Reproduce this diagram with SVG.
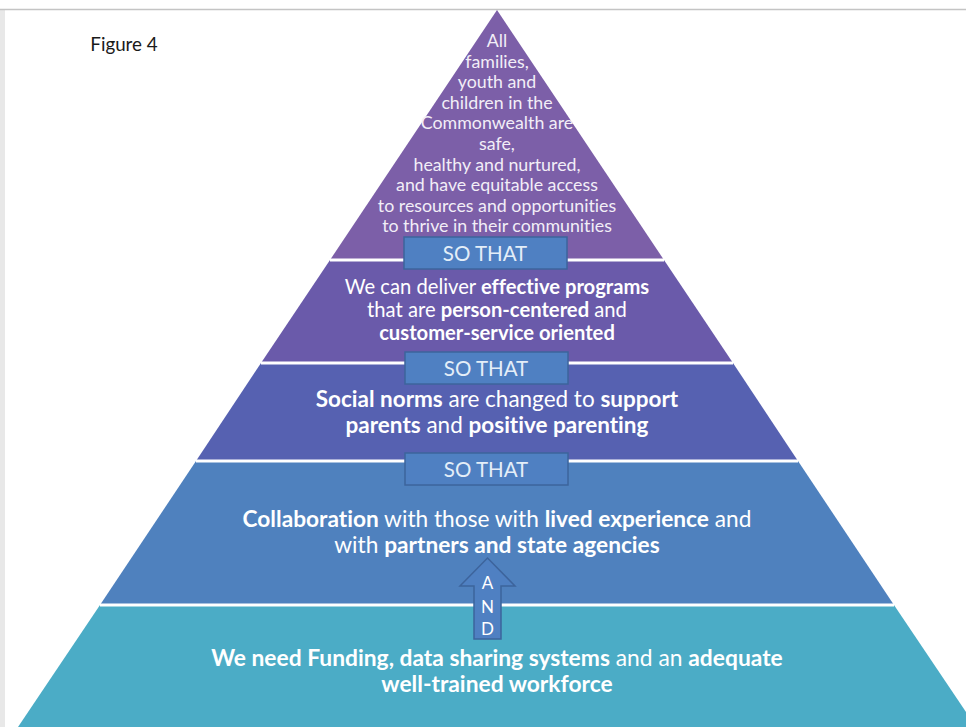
<svg xmlns="http://www.w3.org/2000/svg" width="966" height="727" viewBox="0 0 966 727">
<style>
text{font-family:Lato,"Liberation Sans",sans-serif;fill:#ffffff;text-anchor:middle;font-variant-ligatures:none;font-feature-settings:"liga" 0}
.b{font-weight:bold}
.top{font-size:17.8px;fill:#f2eef7}
.l2{font-size:20.2px}
.l3{font-size:22.5px}
.l4{font-size:22.7px}
.l5{font-size:22.8px}
.so{font-size:20.5px;fill:#e4eef8}
.box{fill:#4f80c2;stroke:#3d649c;stroke-width:1.5}
.gap{stroke:#ffffff;stroke-width:3}
</style>
<rect width="966" height="727" fill="#ffffff"/>
<rect x="0" y="10" width="5" height="717" fill="#e8e8e8"/>
<line x1="0" y1="9.5" x2="966" y2="9.5" stroke="#c4c4c4" stroke-width="1.5"/>
<text x="124" y="51" style="font-size:18.8px;fill:#1a1a1a">Figure 4</text>
<g id="layer1">
<polygon points="497,10 664,260 330,260" fill="#7c5fa8"/>
<text class="top"><tspan x="497" y="47">All</tspan><tspan x="497" y="67.6">families,</tspan><tspan x="497" y="88.2">youth and</tspan><tspan x="497" y="108.8">children in the</tspan><tspan x="497" y="129.4">Commonwealth are</tspan><tspan x="497" y="150">safe,</tspan><tspan x="497" y="170.6">healthy and nurtured,</tspan><tspan x="497" y="191.2">and have equitable access</tspan><tspan x="497" y="211.8">to resources and opportunities</tspan><tspan x="497" y="232.4">to thrive in their communities</tspan></text>
</g>
<g id="layer2">
<polygon points="330,260 664,260 733,363 261,363" fill="#6a5aaa"/>
<text class="l2" x="497" y="294">We can deliver <tspan class="b">effective programs</tspan></text>
<text class="l2" x="497" y="317">that are <tspan class="b">person-centered</tspan> and</text>
<text class="l2 b" x="497" y="340">customer-service oriented</text>
</g>
<g id="layer3">
<polygon points="261,363 733,363 798,461 196,461" fill="#5661b1"/>
<text class="l3" x="497" y="407"><tspan class="b">Social norms</tspan> are changed to <tspan class="b">support</tspan></text>
<text class="l3" x="497" y="433"><tspan class="b">parents</tspan> and <tspan class="b">positive parenting</tspan></text>
</g>
<g id="layer4">
<polygon points="196,461 798,461 894,605 100,605" fill="#4f81be"/>
<text class="l4" x="497" y="527"><tspan class="b">Collaboration</tspan> with those with <tspan class="b">lived experience</tspan> and</text>
<text class="l4" x="497" y="553">with <tspan class="b">partners and state agencies</tspan></text>
</g>
<g id="layer5">
<polygon points="100,605 894,605 976,727 18,727" fill="#4bacc6"/>
<text class="l5" x="497" y="666"><tspan class="b">We need Funding, data sharing systems</tspan> and an <tspan class="b">adequate</tspan></text>
<text class="l5 b" x="497" y="692">well-trained workforce</text>
</g>
<g id="connectors">
<line class="gap" x1="330" y1="260" x2="664" y2="260"/>
<line class="gap" x1="261" y1="363" x2="733" y2="363"/>
<line class="gap" x1="196" y1="461" x2="798" y2="461"/>
<line class="gap" x1="100" y1="605" x2="894" y2="605"/>
</g>
<g id="sothat1">
<rect class="box" x="404" y="237" width="163" height="32"/>
<text class="so" x="485" y="261">SO THAT</text>
</g>
<g id="sothat2">
<rect class="box" x="405" y="352" width="163" height="32"/>
<text class="so" x="486" y="376">SO THAT</text>
</g>
<g id="sothat3">
<rect class="box" x="405" y="453" width="163" height="32"/>
<text class="so" x="486" y="477">SO THAT</text>
</g>
<g id="and-arrow">
<polygon class="box" points="487.5,558 515,586 501,586 501,639 474,639 474,586 460,586"/>
<text style="font-size:17px" x="487.5" y="589">A</text>
<text style="font-size:17px" x="487.5" y="613">N</text>
<text style="font-size:17px" x="487.5" y="635">D</text>
</g>
</svg>
